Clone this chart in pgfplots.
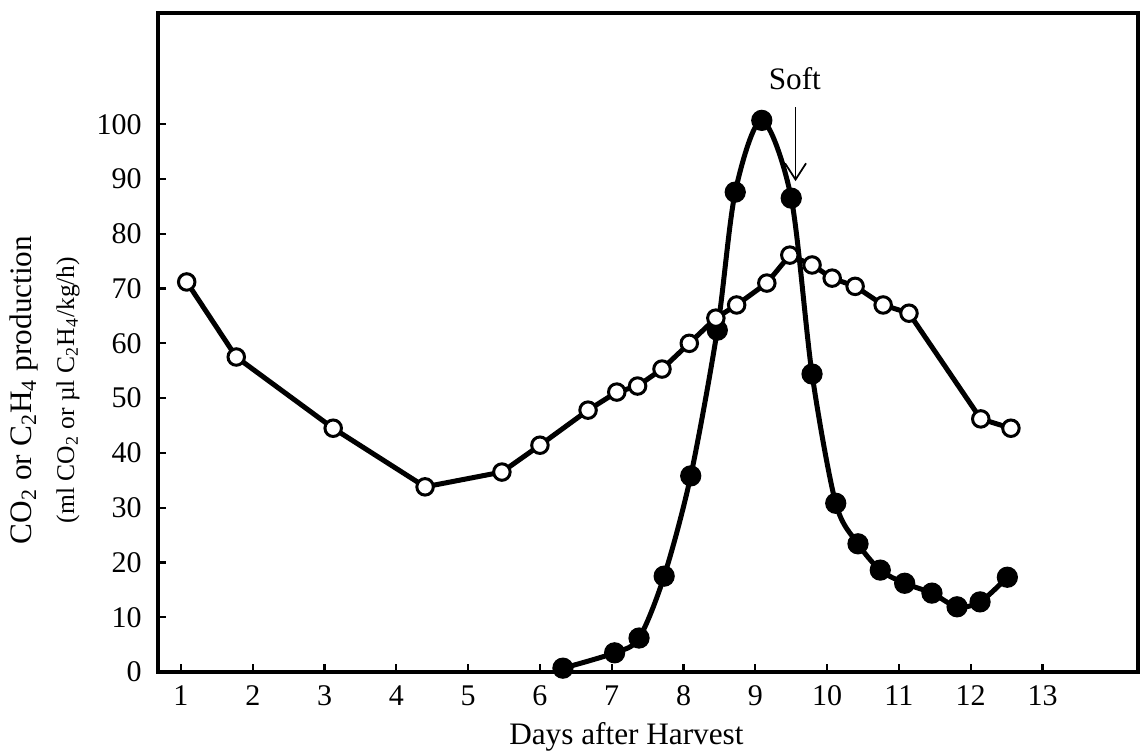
\documentclass[border=0pt]{standalone}
\usepackage{fontspec}
\setmainfont{Liberation Serif}
\usepackage{pgfplots}
\pgfplotsset{compat=1.18}
\usetikzlibrary{arrows.meta}
\begin{document}
\begin{tikzpicture}
\begin{axis}[
  width=392pt, height=263.6pt, scale only axis,
  xmin=0.68, xmax=14.33, ymin=0, ymax=120.3,
  xtick={1,...,13}, ytick={0,10,...,100},
  tick pos=left, tick align=inside, major tick length=3.2pt,
  tick style={line width=0.9pt, black},
  axis line style={line width=1.6pt},
  clip=false,
  /pgf/number format/assume math mode=true,
  tick label style={font=\fontsize{12}{14}\selectfont},
  yticklabel style={xshift=-3pt},
  xticklabel style={yshift=-2pt},
]
% C2H4 (filled)
\addplot[black, line width=2pt, smooth, tension=0.5, mark=*, mark size=4pt,
  mark options={fill=black, draw=black, line width=0.5pt}] coordinates {
(6.32,0.7) (7.04,3.5) (7.38,6.2) (7.73,17.5) (8.10,35.8) (8.47,62.4)
(8.72,87.6) (9.09,100.7) (9.50,86.5) (9.79,54.4) (10.12,30.8) (10.43,23.4)
(10.74,18.6) (11.08,16.2) (11.46,14.4) (11.81,11.9) (12.13,12.8) (12.51,17.3)
};
% CO2 (open)
\addplot[black, line width=2pt, mark=*, mark size=3.3pt,
  mark options={fill=white, draw=black, line width=1.2pt}] coordinates {
(1.08,71.2) (1.77,57.5) (3.12,44.5) (4.40,33.8) (5.47,36.5) (6.00,41.4)
(6.67,47.8) (7.07,51.1) (7.36,52.2) (7.70,55.3) (8.08,60.0) (8.45,64.6)
(8.74,67.0) (9.16,71.0) (9.48,76.1) (9.79,74.3) (10.07,71.9) (10.39,70.4)
(10.78,67.0) (11.14,65.5) (12.14,46.2) (12.56,44.5)
};
\node[font=\fontsize{12.5}{14}\selectfont] at (axis cs:9.55,108.4) {Soft};
\draw[line width=0.7pt, -{Straight Barb[length=6.5pt,width=8.4pt,line width=0.7pt]}]
  (axis cs:9.56,103.1) -- (axis cs:9.56,89.6);
\node[rotate=90, font=\fontsize{12.5}{15}\selectfont]
  at ([xshift=-53.6pt]rel axis cs:0,0.428) {CO\textsubscript{2} or C\textsubscript{2}H\textsubscript{4} production};
\node[rotate=90, font=\fontsize{10.2}{12}\selectfont]
  at ([xshift=-36pt]rel axis cs:0,0.428) {(ml CO\textsubscript{2} or µl C\textsubscript{2}H\textsubscript{4}/kg/h)};
\node[font=\fontsize{12.5}{15}\selectfont]
  at ([yshift=-26pt]rel axis cs:0.478,0) {Days after Harvest};
\end{axis}
\pgfresetboundingbox
\path ([shift={(-63.2pt,-33.2pt)}]current axis.south west) rectangle ([shift={(1.6pt,5.2pt)}]current axis.north east);
\end{tikzpicture}
\end{document}
